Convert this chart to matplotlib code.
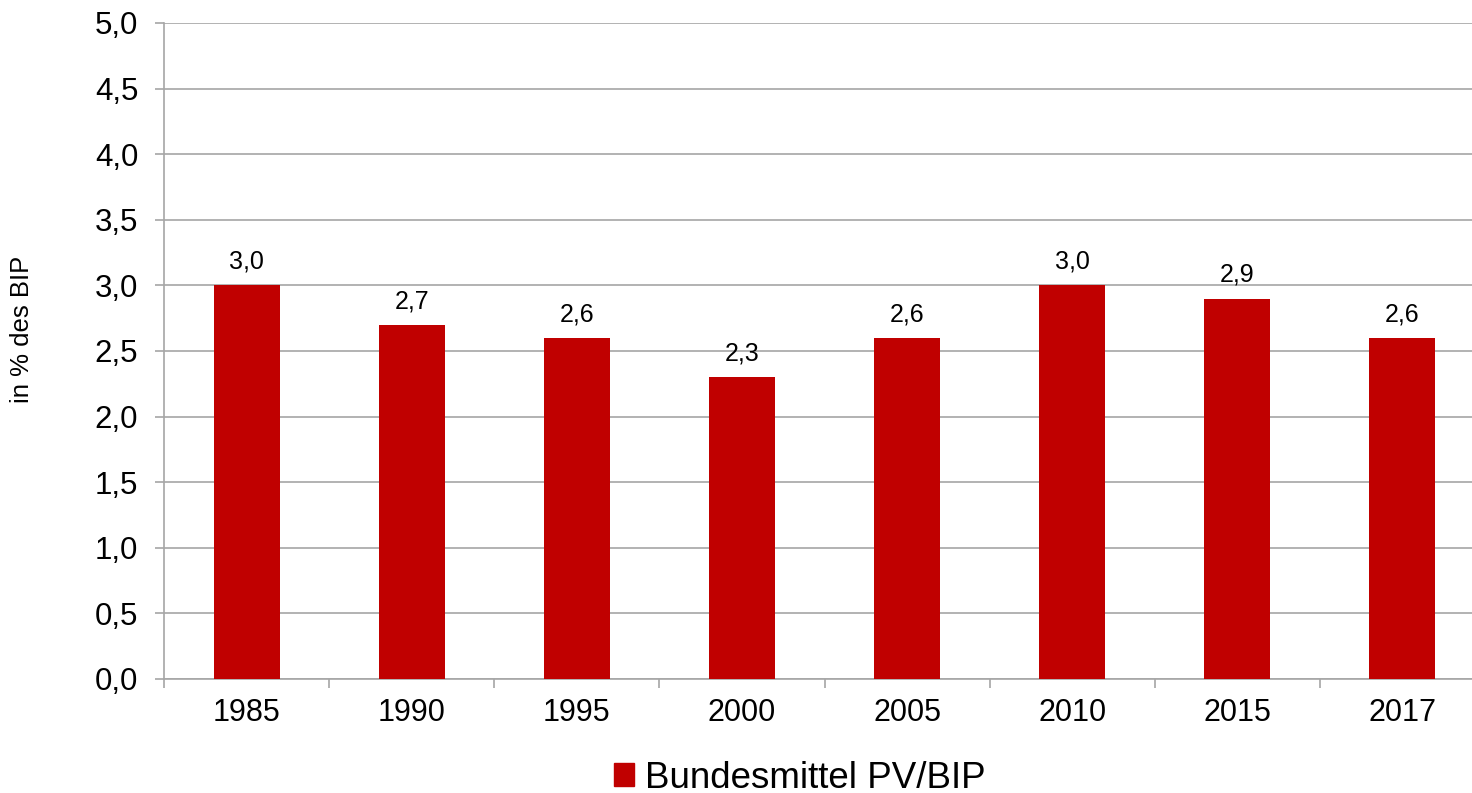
import matplotlib.pyplot as plt
from matplotlib.patches import Patch

plt.rcParams['font.family'] = ['Liberation Sans', 'DejaVu Sans']

years = ['1985', '1990', '1995', '2000', '2005', '2010', '2015', '2017']
werte = [3.0, 2.7, 2.6, 2.3, 2.6, 3.0, 2.9, 2.6]
yticks = [0.0, 0.5, 1.0, 1.5, 2.0, 2.5, 3.0, 3.5, 4.0, 4.5, 5.0]

rot = '#C00000'
grau = '#A6A6A6'

fig = plt.figure(figsize=(14.72, 7.93), dpi=100)
# die rechte Kante liegt etwas ausserhalb der Grafik
ax = fig.add_axes([164 / 1472, 1 - 679 / 793, (1485 - 164) / 1472, (679 - 23) / 793])

x = list(range(len(years)))
ax.bar(x, werte, width=0.4, color=rot, zorder=3)

for xi, v in zip(x, werte):
    ax.annotate(f'{v:.1f}'.replace('.', ','), (xi, v), xytext=(0, 12),
                textcoords='offset points', ha='center', va='baseline', fontsize=18)

ax.set_xlim(-0.5, len(years) - 0.5)
ax.set_ylim(0, 5)
ax.set_yticks(yticks)
ax.set_yticklabels([f'{t:.1f}'.replace('.', ',') for t in yticks], fontsize=22.5)
ax.set_xticks(x)
ax.set_xticklabels(years, fontsize=22)
ax.set_xticks([i - 0.5 for i in range(len(years) + 1)], minor=True)
ax.tick_params(axis='x', which='major', length=0, pad=14)
ax.tick_params(axis='x', which='minor', length=6.5, color=grau, width=1.2)
ax.tick_params(axis='y', length=6.5, color=grau, width=1.2, pad=12)

ax.grid(axis='y', color=grau, linewidth=1.2, zorder=0)
for s in ['top', 'right']:
    ax.spines[s].set_visible(False)
for s in ['left', 'bottom']:
    ax.spines[s].set_color(grau)
    ax.spines[s].set_linewidth(1.2)

ax.set_ylabel('in % des BIP', fontsize=18.5)
ax.yaxis.set_label_coords((34 - 164) / 1321, (679 - 329) / 656)

fig.legend(handles=[Patch(color=rot, label='Bundesmittel PV/BIP')],
           loc='center', bbox_to_anchor=(800 / 1472, 1 - 778 / 793),
           frameon=False, fontsize=26.5, handlelength=0.55, handleheight=0.55,
           handletextpad=0.3, borderpad=0)

fig.savefig('out.png', dpi=100)
